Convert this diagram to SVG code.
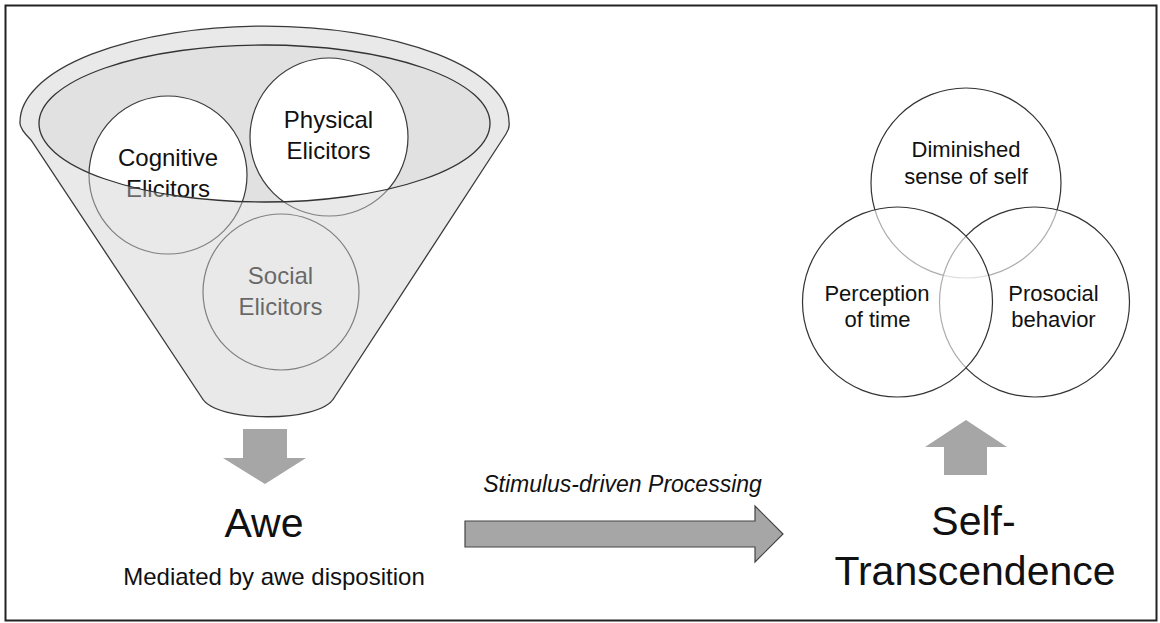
<svg xmlns="http://www.w3.org/2000/svg" width="1160" height="623" viewBox="0 0 1160 623">
  <style>
    text { font-family: "Liberation Sans", Arial, sans-serif; fill: #111; }
    .mid { text-anchor: middle; }
    .elic { font-size: 24px; }
    .venn { font-size: 22px; }
    .big { font-size: 41px; }
    .circ { fill: none; stroke: #3a3a3a; stroke-width: 1.2; }
    .vcirc { fill: #fff; fill-opacity: 0.6; stroke: #333; stroke-width: 1.2; }
    .block { fill: #a6a6a6; }
  </style>
  <defs>
    <clipPath id="rimClip">
      <ellipse cx="264.5" cy="123.5" rx="225.5" ry="78.5"/>
    </clipPath>
  </defs>

  <rect x="5.5" y="5.5" width="1151" height="615" fill="#fff" stroke="#222" stroke-width="2"/>

  <!-- funnel back -->
  <g id="funnel-back">
    <path d="M 20,122 A 244.5 96 0 0 1 509,122 Q 510,128 506,134 L 334,398 C 320,423 216,423 202,398 L 31,140 Q 19,128 20,122 Z" fill="#e9e9e9"/>
    <ellipse cx="264.5" cy="123.5" rx="225.5" ry="78.5" fill="#e1e1e1"/>
  </g>

  <g id="cognitive">
    <circle cx="168" cy="175" r="79" fill="#fff" clip-path="url(#rimClip)"/>
    <circle class="circ" cx="168" cy="175" r="79"/>
    <text class="mid elic" x="168" y="166">Cognitive</text>
    <text class="mid elic" x="168" y="197">Elicitors</text>
  </g>

  <g id="physical">
    <circle cx="329" cy="137" r="79" fill="#fff" clip-path="url(#rimClip)"/>
    <circle class="circ" cx="329" cy="137" r="79"/>
    <text class="mid elic" x="328.5" y="128">Physical</text>
    <text class="mid elic" x="328.5" y="159">Elicitors</text>
  </g>

  <g id="social">
    <circle class="circ" cx="281" cy="292" r="78"/>
    <text class="mid elic" x="280.5" y="284">Social</text>
    <text class="mid elic" x="280.5" y="315">Elicitors</text>
  </g>

  <!-- funnel front (translucent body and outlines) -->
  <g id="funnel-front">
    <path d="M 39,123.5 A 225.5 78.5 0 0 0 490,123.5 L 509,122 Q 510,128 506,134 L 334,398 C 320,423 216,423 202,398 L 31,140 Q 19,128 20,122 Z" fill="#e9e9e9" fill-opacity="0.4"/>
    <ellipse cx="264.5" cy="123.5" rx="225.5" ry="78.5" fill="none" stroke="#333" stroke-width="1.3"/>
    <path d="M 20,122 A 244.5 96 0 0 1 509,122 Q 510,128 506,134 L 334,398 C 320,423 216,423 202,398 L 31,140 Q 19,128 20,122 Z" fill="none" stroke="#3a3a3a" stroke-width="1.3"/>
  </g>

  <g id="awe">
    <text class="mid big" x="264" y="537">Awe</text>
    <text class="mid" x="274" y="585" font-size="24">Mediated by awe disposition</text>
  </g>

  <g id="diminished">
    <circle class="vcirc" cx="966" cy="183" r="95"/>
  </g>
  <g id="prosocial">
    <circle class="vcirc" cx="1034.5" cy="302" r="95"/>
  </g>
  <g id="perception">
    <circle class="vcirc" cx="897.5" cy="302" r="95"/>
  </g>
  <g id="venn-labels">
    <text class="mid venn" x="966" y="157">Diminished</text>
    <text class="mid venn" x="966" y="184">sense of self</text>
    <text class="mid venn" x="877" y="301">Perception</text>
    <text class="mid venn" x="877.5" y="327">of time</text>
    <text class="mid venn" x="1053.5" y="301">Prosocial</text>
    <text class="mid venn" x="1053.5" y="327">behavior</text>
  </g>

  <g id="self-transcendence">
    <text class="mid big" x="973.5" y="535">Self-</text>
    <text class="mid big" x="975" y="585">Transcendence</text>
  </g>

  <g id="connectors">
    <path class="block" d="M 243,429 H 287 V 458 H 306 L 265,484 L 223,458 H 243 Z"/>
    <path d="M 465,521 H 755 V 506 L 783,534 L 755,562 V 547 H 465 Z" fill="#a6a6a6" stroke="#444" stroke-width="1.2"/>
    <text class="mid" x="622.5" y="492" font-size="23" font-style="italic">Stimulus-driven Processing</text>
    <path class="block" d="M 966,420 L 1007,447 H 987 V 475 H 944 V 447 H 925 Z"/>
  </g>
</svg>
